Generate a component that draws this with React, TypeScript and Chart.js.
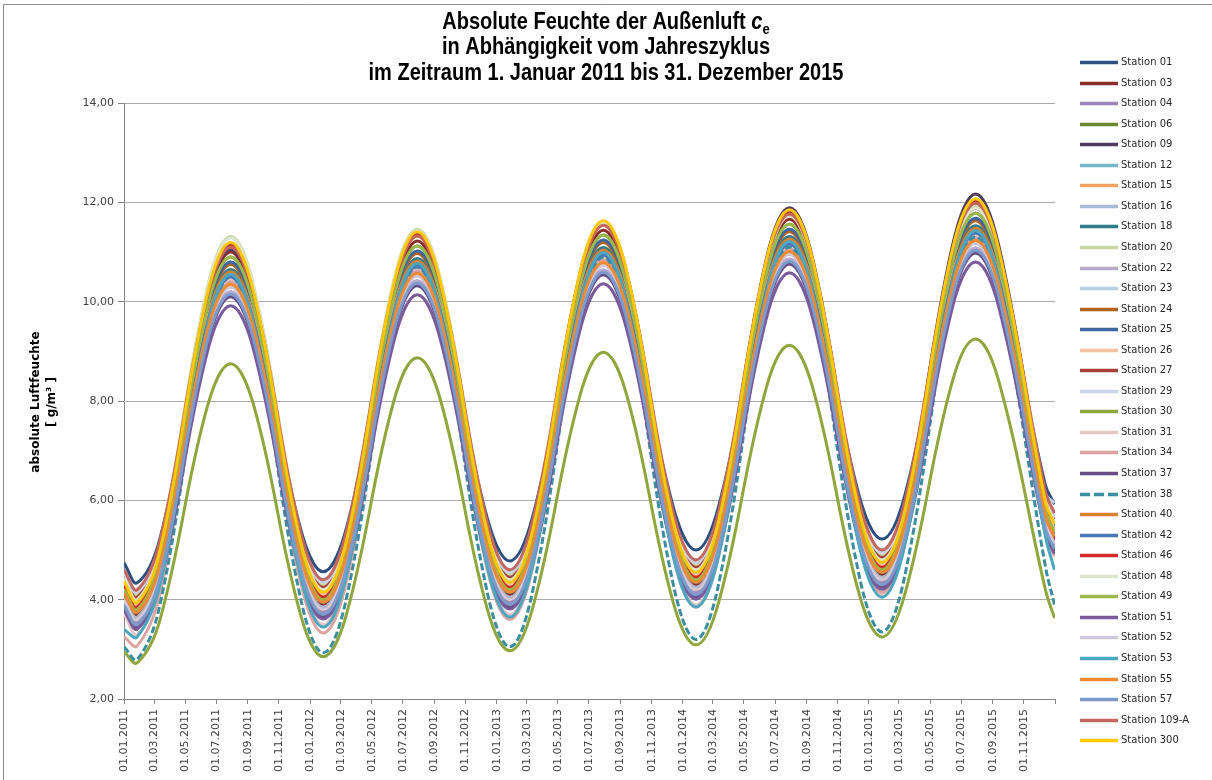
import React, { useEffect, useRef } from 'react';
import { Chart, registerables } from 'chart.js';

Chart.register(...registerables);

// ---------- data ----------
const sampleDates = [
  '2011-01-01',
  '2011-01-27', '2011-03-13', '2011-06-13', '2011-07-29', '2011-09-13', '2011-12-13',
  '2012-01-27', '2012-03-13', '2012-06-13', '2012-07-29', '2012-09-13', '2012-12-13',
  '2013-01-27', '2013-03-13', '2013-06-13', '2013-07-29', '2013-09-13', '2013-12-13',
  '2014-01-27', '2014-03-13', '2014-06-13', '2014-07-29', '2014-09-13', '2014-12-13',
  '2015-01-27', '2015-03-13', '2015-06-13', '2015-07-29', '2015-09-13', '2015-12-13',
  '2015-12-31',
];

const xTickLabels = [
  '01.01.2011', '01.03.2011', '01.05.2011', '01.07.2011', '01.09.2011', '01.11.2011',
  '01.01.2012', '01.03.2012', '01.05.2012', '01.07.2012', '01.09.2012', '01.11.2012',
  '01.01.2013', '01.03.2013', '01.05.2013', '01.07.2013', '01.09.2013', '01.11.2013',
  '01.01.2014', '01.03.2014', '01.05.2014', '01.07.2014', '01.09.2014', '01.11.2014',
  '01.01.2015', '01.03.2015', '01.05.2015', '01.07.2015', '01.09.2015', '01.11.2015',
];
const axisStart = '2011-01-01';
const axisEnd = '2016-01-01';

const stationNames = [
  'Station 01', 'Station 03', 'Station 04', 'Station 06', 'Station 09', 'Station 12',
  'Station 15', 'Station 16', 'Station 18', 'Station 20', 'Station 22', 'Station 23',
  'Station 24', 'Station 25', 'Station 26', 'Station 27', 'Station 29', 'Station 30',
  'Station 31', 'Station 34', 'Station 37', 'Station 38', 'Station 40', 'Station 42',
  'Station 46', 'Station 48', 'Station 49', 'Station 51', 'Station 52', 'Station 53',
  'Station 55', 'Station 57', 'Station 109-A', 'Station 300',
];

const st01 = [4.74, 4.34, 5.25, 9.69, 10.60, 9.72, 5.44, 4.56, 5.47, 9.89, 10.80, 9.92, 5.66, 4.78, 5.69, 10.09, 11.00, 10.12, 5.88, 5.00, 5.91, 10.30, 11.20, 10.33, 6.09, 5.22, 6.12, 10.50, 11.40, 10.53, 6.31, 5.92];
const st03 = [4.16, 3.70, 4.77, 9.93, 11.00, 9.96, 4.94, 3.90, 4.97, 10.15, 11.22, 10.18, 5.14, 4.10, 5.17, 10.37, 11.44, 10.40, 5.34, 4.30, 5.37, 10.59, 11.66, 10.62, 5.54, 4.50, 5.57, 10.81, 11.88, 10.84, 5.74, 5.27];
const st04 = [3.94, 3.55, 4.54, 9.32, 10.30, 9.35, 4.71, 3.75, 4.74, 9.54, 10.52, 9.57, 4.91, 3.95, 4.94, 9.76, 10.74, 9.79, 5.11, 4.15, 5.14, 9.98, 10.96, 10.01, 5.31, 4.35, 5.34, 10.20, 11.18, 10.23, 5.51, 5.08];
const st06 = [4.17, 3.75, 4.79, 9.86, 10.90, 9.89, 4.96, 3.95, 4.99, 10.08, 11.12, 10.11, 5.16, 4.15, 5.19, 10.30, 11.34, 10.33, 5.36, 4.35, 5.39, 10.52, 11.56, 10.55, 5.56, 4.55, 5.59, 10.74, 11.78, 10.77, 5.76, 5.31];
const st09 = [4.31, 3.90, 4.94, 10.01, 11.05, 10.04, 5.13, 4.12, 5.17, 10.28, 11.33, 10.31, 5.36, 4.34, 5.40, 10.55, 11.61, 10.58, 5.59, 4.56, 5.63, 10.82, 11.89, 10.85, 5.82, 4.78, 5.86, 11.09, 12.17, 11.12, 6.05, 5.75];
const st12 = [4.38, 4.00, 4.96, 9.64, 10.60, 9.67, 5.13, 4.20, 5.16, 9.86, 10.82, 9.89, 5.33, 4.40, 5.36, 10.08, 11.04, 10.11, 5.53, 4.60, 5.56, 10.30, 11.26, 10.33, 5.73, 4.80, 5.76, 10.52, 11.48, 10.55, 5.93, 5.52];
const st15 = [4.27, 3.85, 4.91, 10.04, 11.10, 10.07, 5.08, 4.05, 5.11, 10.26, 11.32, 10.29, 5.28, 4.25, 5.31, 10.48, 11.54, 10.51, 5.48, 4.45, 5.51, 10.70, 11.76, 10.73, 5.68, 4.65, 5.71, 10.92, 11.98, 10.95, 5.88, 5.42];
const st16 = [4.03, 3.65, 4.61, 9.24, 10.20, 9.27, 4.78, 3.85, 4.81, 9.46, 10.42, 9.49, 4.98, 4.05, 5.01, 9.68, 10.64, 9.71, 5.18, 4.25, 5.21, 9.90, 10.86, 9.93, 5.38, 4.45, 5.41, 10.12, 11.08, 10.15, 5.58, 5.16];
const st18 = [4.29, 3.90, 4.89, 9.67, 10.65, 9.70, 5.06, 4.10, 5.09, 9.89, 10.87, 9.92, 5.26, 4.30, 5.29, 10.11, 11.09, 10.14, 5.46, 4.50, 5.49, 10.33, 11.31, 10.36, 5.66, 4.70, 5.69, 10.55, 11.53, 10.58, 5.86, 5.43];
const st20 = [4.52, 4.10, 5.15, 10.26, 11.31, 10.29, 5.32, 4.30, 5.34, 10.42, 11.46, 10.45, 5.51, 4.50, 5.53, 10.58, 11.61, 10.61, 5.70, 4.70, 5.72, 10.74, 11.76, 10.77, 5.89, 4.90, 5.91, 10.90, 11.91, 10.93, 6.08, 5.64];
const st22 = [3.89, 3.50, 4.48, 9.22, 10.20, 9.25, 4.65, 3.70, 4.68, 9.44, 10.42, 9.47, 4.85, 3.90, 4.88, 9.66, 10.64, 9.69, 5.05, 4.10, 5.08, 9.88, 10.86, 9.91, 5.25, 4.30, 5.28, 10.10, 11.08, 10.13, 5.45, 5.03];
const st23 = [4.58, 4.20, 5.16, 9.84, 10.80, 9.87, 5.33, 4.40, 5.36, 10.06, 11.02, 10.09, 5.53, 4.60, 5.56, 10.28, 11.24, 10.31, 5.73, 4.80, 5.76, 10.50, 11.46, 10.53, 5.93, 5.00, 5.96, 10.72, 11.68, 10.75, 6.13, 5.95];
const st24 = [4.21, 3.80, 4.82, 9.74, 10.75, 9.76, 4.99, 4.00, 5.02, 9.96, 10.97, 9.98, 5.19, 4.20, 5.22, 10.18, 11.19, 10.20, 5.39, 4.40, 5.42, 10.40, 11.41, 10.42, 5.59, 4.60, 5.62, 10.62, 11.63, 10.64, 5.79, 5.35];
const st25 = [4.35, 3.95, 4.95, 9.80, 10.80, 9.83, 5.12, 4.15, 5.15, 10.02, 11.02, 10.05, 5.32, 4.35, 5.35, 10.24, 11.24, 10.27, 5.52, 4.55, 5.55, 10.46, 11.46, 10.49, 5.72, 4.75, 5.75, 10.68, 11.68, 10.71, 5.92, 5.49];
const st26 = [4.29, 3.90, 4.87, 9.58, 10.55, 9.61, 5.04, 4.10, 5.07, 9.80, 10.77, 9.83, 5.24, 4.30, 5.27, 10.02, 10.99, 10.05, 5.44, 4.50, 5.47, 10.24, 11.21, 10.27, 5.64, 4.70, 5.67, 10.46, 11.43, 10.49, 5.84, 5.42];
const st27 = [4.46, 4.05, 5.09, 10.11, 11.15, 10.14, 5.26, 4.25, 5.29, 10.33, 11.37, 10.36, 5.46, 4.45, 5.49, 10.55, 11.59, 10.58, 5.66, 4.65, 5.69, 10.77, 11.81, 10.80, 5.86, 4.85, 5.89, 10.99, 12.03, 11.02, 6.06, 5.61];
const st29 = [4.52, 4.15, 5.08, 9.62, 10.55, 9.65, 5.25, 4.35, 5.28, 9.84, 10.77, 9.87, 5.45, 4.55, 5.48, 10.06, 10.99, 10.09, 5.65, 4.75, 5.68, 10.28, 11.21, 10.31, 5.85, 4.95, 5.88, 10.50, 11.43, 10.53, 6.05, 5.65];
const st30 = [2.95, 2.73, 3.61, 7.87, 8.75, 7.89, 3.71, 2.85, 3.73, 7.99, 8.87, 8.01, 3.83, 2.97, 3.85, 8.10, 8.98, 8.12, 3.95, 3.09, 3.97, 8.24, 9.12, 8.26, 4.11, 3.25, 4.13, 8.37, 9.25, 8.39, 4.21, 3.63];
const st31 = [3.72, 3.30, 4.34, 9.41, 10.45, 9.44, 4.51, 3.50, 4.54, 9.63, 10.67, 9.66, 4.71, 3.70, 4.74, 9.85, 10.89, 9.88, 4.91, 3.90, 4.94, 10.07, 11.11, 10.10, 5.11, 4.10, 5.14, 10.29, 11.33, 10.32, 5.31, 4.86];
const st34 = [3.25, 3.07, 4.14, 9.33, 10.40, 9.37, 4.36, 3.33, 4.39, 9.56, 10.62, 9.60, 4.63, 3.60, 4.66, 9.78, 10.84, 9.82, 4.87, 3.85, 4.90, 10.01, 11.06, 10.05, 5.16, 4.15, 5.19, 10.24, 11.28, 10.27, 5.36, 4.90];
const st37 = [3.84, 3.45, 4.42, 9.13, 10.10, 9.16, 4.59, 3.65, 4.62, 9.35, 10.32, 9.38, 4.79, 3.85, 4.82, 9.57, 10.54, 9.60, 4.99, 4.05, 5.02, 9.79, 10.76, 9.82, 5.19, 4.25, 5.22, 10.01, 10.98, 10.04, 5.39, 4.97];
const st38 = [3.05, 2.80, 3.92, 9.38, 10.50, 9.40, 4.04, 2.93, 4.06, 9.57, 10.70, 9.58, 4.17, 3.05, 4.20, 9.75, 10.90, 9.78, 4.32, 3.20, 4.35, 9.95, 11.10, 9.97, 4.48, 3.35, 4.51, 10.14, 11.30, 10.17, 4.68, 3.90];
const st40 = [4.01, 3.60, 4.62, 9.58, 10.60, 9.61, 4.79, 3.80, 4.82, 9.80, 10.82, 9.83, 4.99, 4.00, 5.02, 10.02, 11.04, 10.05, 5.19, 4.20, 5.22, 10.24, 11.26, 10.27, 5.39, 4.40, 5.42, 10.46, 11.48, 10.49, 5.59, 5.15];
const st42 = [4.14, 3.75, 4.74, 9.52, 10.50, 9.55, 4.91, 3.95, 4.94, 9.74, 10.72, 9.77, 5.11, 4.15, 5.14, 9.96, 10.94, 9.99, 5.31, 4.35, 5.34, 10.18, 11.16, 10.21, 5.51, 4.55, 5.54, 10.40, 11.38, 10.43, 5.71, 5.28];
const st46 = [4.27, 3.85, 4.91, 10.05, 11.11, 10.08, 5.08, 4.05, 5.11, 10.27, 11.33, 10.30, 5.28, 4.25, 5.31, 10.49, 11.55, 10.52, 5.48, 4.45, 5.51, 10.71, 11.77, 10.74, 5.68, 4.65, 5.71, 10.93, 11.99, 10.96, 5.88, 5.20];
const st48 = [4.43, 4.00, 5.06, 10.22, 11.28, 10.25, 5.23, 4.20, 5.25, 10.38, 11.43, 10.41, 5.42, 4.40, 5.44, 10.54, 11.58, 10.57, 5.61, 4.60, 5.63, 10.70, 11.73, 10.73, 5.80, 4.80, 5.82, 10.86, 11.88, 10.89, 5.99, 5.55];
const st49 = [4.21, 3.80, 4.84, 9.86, 10.90, 9.89, 5.01, 4.00, 5.04, 10.08, 11.12, 10.11, 5.21, 4.20, 5.24, 10.30, 11.34, 10.33, 5.41, 4.40, 5.44, 10.52, 11.56, 10.55, 5.61, 4.60, 5.64, 10.74, 11.78, 10.77, 5.81, 5.36];
const st51 = [3.79, 3.41, 4.36, 8.97, 9.92, 9.00, 4.53, 3.61, 4.56, 9.19, 10.14, 9.22, 4.73, 3.81, 4.76, 9.41, 10.36, 9.44, 4.93, 4.01, 4.96, 9.63, 10.58, 9.66, 5.13, 4.21, 5.16, 9.85, 10.80, 9.88, 5.33, 4.92];
const st52 = [3.99, 3.60, 4.58, 9.32, 10.30, 9.35, 4.75, 3.80, 4.78, 9.54, 10.52, 9.57, 4.95, 4.00, 4.98, 9.76, 10.74, 9.79, 5.15, 4.20, 5.18, 9.98, 10.96, 10.01, 5.35, 4.40, 5.38, 10.20, 11.18, 10.23, 5.55, 5.13];
const st53 = [3.40, 3.25, 4.32, 9.48, 10.55, 9.51, 4.49, 3.45, 4.52, 9.70, 10.77, 9.73, 4.69, 3.65, 4.72, 9.92, 10.99, 9.95, 4.89, 3.85, 4.92, 10.14, 11.21, 10.17, 5.09, 4.05, 5.12, 10.36, 11.43, 10.39, 5.29, 4.60];
const st55 = [4.13, 3.75, 4.71, 9.39, 10.35, 9.42, 4.88, 3.95, 4.91, 9.61, 10.57, 9.64, 5.08, 4.15, 5.11, 9.83, 10.79, 9.86, 5.28, 4.35, 5.31, 10.05, 11.01, 10.08, 5.48, 4.55, 5.51, 10.27, 11.23, 10.30, 5.68, 5.27];
const st57 = [3.89, 3.50, 4.47, 9.18, 10.15, 9.21, 4.64, 3.70, 4.67, 9.40, 10.37, 9.43, 4.84, 3.90, 4.87, 9.62, 10.59, 9.65, 5.04, 4.10, 5.07, 9.84, 10.81, 9.87, 5.24, 4.30, 5.27, 10.06, 11.03, 10.09, 5.44, 5.02];
const st109A = [4.60, 4.20, 5.21, 10.09, 11.10, 10.12, 5.38, 4.40, 5.41, 10.31, 11.32, 10.34, 5.58, 4.60, 5.61, 10.53, 11.54, 10.56, 5.78, 4.80, 5.81, 10.75, 11.76, 10.78, 5.98, 5.00, 6.01, 10.97, 11.98, 11.00, 6.18, 5.74];
const st300 = [4.37, 3.95, 5.01, 10.13, 11.19, 10.16, 5.18, 4.15, 5.21, 10.35, 11.41, 10.38, 5.38, 4.35, 5.41, 10.57, 11.63, 10.60, 5.58, 4.55, 5.61, 10.79, 11.85, 10.82, 5.78, 4.75, 5.81, 11.01, 12.07, 11.04, 5.98, 5.52];

const stationValues = [
  st01, st03, st04, st06, st09, st12, st15, st16, st18, st20, st22, st23,
  st24, st25, st26, st27, st29, st30, st31, st34, st37, st38, st40, st42,
  st46, st48, st49, st51, st52, st53, st55, st57, st109A, st300,
];

// ---------- styles ----------
const stationColors = [
  '#2C4F80', '#8B2E2B', '#9B85BA', '#6C8A2C', '#4F3B62', '#74B6CC',
  '#F5A267', '#A8B9DA', '#2D7D8C', '#C8D7A4', '#B8A8CC', '#B3D1E0',
  '#B5621F', '#3E66A0', '#F6C0A2', '#A8403A', '#CAD3E8', '#8EA63C',
  '#E6C5C5', '#DCA3A0', '#664A84', '#3A8E9F', '#D8812E', '#4A78B8',
  '#D42A2A', '#DDE6CE', '#9BB84A', '#7B5A9C', '#D0C9DA', '#4AA7C0',
  '#EE8A33', '#7B9BCB', '#C4675F', '#FFC800',
];
const dashedStation = 'Station 38';

const BASE = Date.UTC(2011, 0, 1);
const isoToDay = (s: string) => {
  const [y, m, d] = s.split('-').map(Number);
  return (Date.UTC(y, m - 1, d) - BASE) / 86400000;
};
const deToDay = (s: string) => {
  const [d, m, y] = s.split('.').map(Number);
  return (Date.UTC(y, m - 1, d) - BASE) / 86400000;
};

const decorPlugin = {
  id: 'decor',
  afterDraw(chart: any) {
    const ctx = chart.ctx as CanvasRenderingContext2D;
    ctx.save();
    // outer frame
    ctx.strokeStyle = '#8c8c8c';
    ctx.lineWidth = 1;
    ctx.beginPath();
    ctx.moveTo(3.5, 780);
    ctx.lineTo(3.5, 4.5);
    ctx.lineTo(1212, 4.5);
    ctx.stroke();

    // title (condensed bold)
    const sx = 0.87;
    ctx.save();
    ctx.scale(sx, 1);
    ctx.fillStyle = '#000';
    ctx.textBaseline = 'alphabetic';
    const cx = 606 / sx;
    const big = 'bold 23px "Liberation Sans", Arial, sans-serif';
    const parts = [
      { t: 'Absolute Feuchte der Außenluft ', f: big, dy: 0 },
      { t: 'c', f: 'italic bold 23px "Liberation Sans", Arial, sans-serif', dy: 0 },
      { t: 'e', f: 'bold 15px "Liberation Sans", Arial, sans-serif', dy: 5 },
    ];
    let total = 0;
    parts.forEach((p) => { ctx.font = p.f; total += ctx.measureText(p.t).width; });
    let x = cx - total / 2;
    parts.forEach((p) => {
      ctx.font = p.f;
      ctx.textAlign = 'left';
      ctx.fillText(p.t, x, 29 + p.dy);
      x += ctx.measureText(p.t).width;
    });
    ctx.font = big;
    ctx.textAlign = 'center';
    ctx.fillText('in Abhängigkeit vom Jahreszyklus', cx, 54);
    ctx.fillText('im Zeitraum 1. Januar 2011 bis 31. Dezember 2015', cx, 80);
    ctx.restore();

    // y axis title
    ctx.save();
    ctx.fillStyle = '#000';
    ctx.font = 'bold 12px "DejaVu Sans", sans-serif';
    ctx.textAlign = 'center';
    ctx.textBaseline = 'middle';
    ctx.translate(36, 402);
    ctx.rotate(-Math.PI / 2);
    ctx.fillText('absolute Luftfeuchte', 0, 0);
    ctx.fillText('[ g/m³ ]', 0, 16);
    ctx.restore();

    // legend
    ctx.font = '10px "DejaVu Sans", sans-serif';
    ctx.textBaseline = 'middle';
    ctx.textAlign = 'left';
    stationNames.forEach((name, i) => {
      const y = Math.round(62 + i * 20.55) + 0.5;
      ctx.strokeStyle = stationColors[i];
      ctx.lineWidth = 3.5;
      ctx.setLineDash(name === dashedStation ? [10, 4] : []);
      ctx.beginPath();
      ctx.moveTo(1080, y);
      ctx.lineTo(1118, y);
      ctx.stroke();
      ctx.setLineDash([]);
      ctx.fillStyle = '#262626';
      ctx.fillText(name, 1121, y);
    });
    ctx.restore();
  },
};

export default function App() {
  const ref = useRef<HTMLCanvasElement | null>(null);
  useEffect(() => {
    if (!ref.current) return;
    Chart.defaults.font.family = '"DejaVu Sans", sans-serif';
    const sampleDays = sampleDates.map(isoToDay);
    const tickDays = xTickLabels.map(deToDay);
    const endDay = isoToDay(axisEnd);
    const startDay = isoToDay(axisStart);
    const n = stationNames.length;
    const chart = new Chart(ref.current, {
      type: 'line',
      data: {
        datasets: stationNames.map((name, i) => ({
          label: name,
          data: stationValues[i].map((v, k) => ({ x: sampleDays[k], y: v })),
          borderColor: stationColors[i],
          backgroundColor: stationColors[i],
          borderWidth: 3,
          borderDash: name === dashedStation ? [7, 3] : [],
          pointRadius: 0,
          pointHoverRadius: 0,
          tension: 0.4,
          fill: false,
          order: n - i,
        })),
      },
      options: {
        animation: false,
        responsive: false,
        devicePixelRatio: 1,
        events: [],
        layout: { padding: { left: 0, top: 103, right: 157, bottom: 0 } },
        plugins: {
          legend: { display: false },
          title: { display: false },
          tooltip: { enabled: false },
        },
        scales: {
          x: {
            type: 'linear',
            min: startDay,
            max: endDay,
            afterBuildTicks: (axis: any) => {
              axis.ticks = [...tickDays.map((v) => ({ value: v })), { value: endDay }];
            },
            afterFit: (axis: any) => { axis.height = 81; },
            ticks: {
              autoSkip: false,
              maxRotation: 90,
              minRotation: 90,
              padding: 5,
              color: '#404040',
              font: { size: 11 },
              callback: (_v: any, i: number) => (i < xTickLabels.length ? xTickLabels[i] : ''),
            },
            grid: { drawOnChartArea: false, drawTicks: true, tickLength: 5, color: '#868686' },
            border: { display: true, color: '#868686', width: 1 },
          },
          y: {
            type: 'linear',
            min: 2,
            max: 14,
            afterFit: (axis: any) => { axis.width = 124; },
            ticks: {
              stepSize: 2,
              padding: 4,
              color: '#404040',
              font: { size: 11 },
              callback: (v: any) => Number(v).toFixed(2).replace('.', ','),
            },
            grid: { color: '#ababab', lineWidth: 1, tickLength: 6, drawTicks: true, tickColor: '#868686' },
            border: { display: true, color: '#868686', width: 1 },
          },
        },
      },
      plugins: [decorPlugin],
    } as any);
    return () => chart.destroy();
  }, []);
  return (
    <div style={{ position: 'absolute', left: 0, top: 0, width: 1212, height: 780, background: '#fff' }}>
      <canvas ref={ref} width={1212} height={780} style={{ display: 'block' }} />
    </div>
  );
}
